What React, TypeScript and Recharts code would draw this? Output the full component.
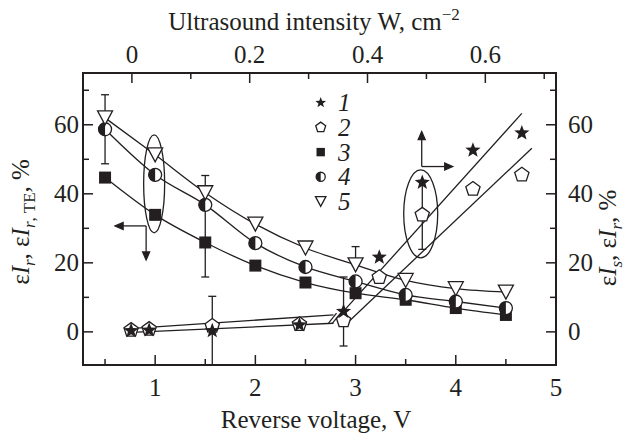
import React from 'react';
import { ComposedChart, Line, Scatter, XAxis, YAxis, ErrorBar, Legend, ReferenceDot } from 'recharts';

// values
const voltage = [0.5, 1, 1.5, 2, 2.5, 3, 3.5, 4, 4.5];
const series3 = [44.7, 33.9, 25.9, 19.2, 14.3, 11.2, 9.3, 6.9, 4.9];
const series4 = [58.7, 45.5, 36.8, 25.7, 18.8, 14.6, 10.7, 8.8, 6.9];
const series5 = [62.0, 51.3, 40.3, 31.2, 24.3, 19.4, 14.9, 12.5, 11.5];

// stars (1) and pentagons (2) vs reverse voltage
const lowVoltage = [0.76, 0.94, 1.57, 2.44, 2.88];
const series1Low = [0.3, 0.5, 0.3, 2.0, 5.9];
const series2Low = [0.5, 0.8, 1.7, 2.2, 3.3];

// stars (1) and pentagons (2) vs ultrasound intensity
const intensity = [0.42, 0.493, 0.579, 0.662];
const series1High = [21.6, 43.3, 52.6, 57.6];
const series2High = [15.8, 33.9, 41.4, 45.5];

// straight fit lines (end points)
const fitLowX = [0.82, 2.78];
const fitLowUpper = [1.1, 4.9];
const fitLowLower = [-0.1, 2.5];
const fitHighUpperX = [0.351, 0.662];
const fitHighUpperY = [4.4, 63.3];
const fitHighLowerX = [0.362, 0.679];
const fitHighLowerY = [2.0, 53.2];

// error bars: x, y, [below, above]
const errVoltageX = [0.5, 1.5, 1.5, 3, 1.57, 2.88];
const errVoltageY = [58.7, 25.9, 40.3, 19.4, 0.3, 5.9];
const errVoltageSize = [[10, 10], [10, 10], [0, 5], [0, 5.3], [10, 10], [10, 10]];
const errIntensityX = [0.493];
const errIntensityY = [33.9];
const errIntensitySize = [[10, 10]];

// ticks
const voltageTicks = [0.5, 1, 1.5, 2, 2.5, 3, 3.5, 4, 4.5, 5];
const voltageLabels = [1, 2, 3, 4, 5];
const intensityTicks = [0, 0.1, 0.2, 0.3, 0.4, 0.5, 0.6, 0.7];
const intensityLabels = [0, 0.2, 0.4, 0.6];
const percentTicks = [0, 10, 20, 30, 40, 50, 60, 70];
const percentLabels = [0, 20, 40, 60];
const legendLabels = ['1', '2', '3', '4', '5'];

const INK = '#231f20';
const FONT = '"Liberation Serif", "Times New Roman", serif';

const pts = (xs: number[], ys: number[]) => xs.map((x, i) => ({ x, y: ys[i] }));
const errPts = (xs: number[], ys: number[], e: number[][]) => xs.map((x, i) => ({ x, y: ys[i], err: e[i] }));

const starPath = (cx: number, cy: number, R: number) => {
  const r = R * 0.42;
  let d = '';
  for (let i = 0; i < 10; i++) {
    const a = -Math.PI / 2 + (i * Math.PI) / 5;
    const rr = i % 2 === 0 ? R : r;
    d += (i === 0 ? 'M' : 'L') + (cx + rr * Math.cos(a)).toFixed(2) + ',' + (cy + rr * Math.sin(a)).toFixed(2);
  }
  return d + 'Z';
};
const pentPath = (cx: number, cy: number, R: number) => {
  let d = '';
  for (let i = 0; i < 5; i++) {
    const a = -Math.PI / 2 + (i * 2 * Math.PI) / 5;
    d += (i === 0 ? 'M' : 'L') + (cx + R * Math.cos(a)).toFixed(2) + ',' + (cy + R * Math.sin(a)).toFixed(2);
  }
  return d + 'Z';
};

const Star = ({ cx, cy, s = 1 }: any) => <path d={starPath(cx, cy, 8 * s)} fill={INK} />;
const Pent = ({ cx, cy, s = 1 }: any) => (
  <path d={pentPath(cx, cy, 7.5 * s)} fill="#fff" stroke={INK} strokeWidth={1.3} />
);
const Square = ({ cx, cy, s = 1 }: any) => (
  <rect x={cx - 6 * s} y={cy - 6 * s} width={12 * s} height={12 * s} fill={INK} />
);
const HalfCircle = ({ cx, cy, s = 1 }: any) => {
  const r = 6.5 * s;
  return (
    <g>
      <circle cx={cx} cy={cy} r={r} fill="#fff" stroke={INK} strokeWidth={1.3} />
      <path d={`M${cx},${cy - r} A${r},${r} 0 0 0 ${cx},${cy + r} Z`} fill={INK} />
    </g>
  );
};
const Tri = ({ cx, cy, s = 1 }: any) => (
  <path
    d={`M${cx - 7.5 * s},${cy - 7 * s} L${cx + 7.5 * s},${cy - 7 * s} L${cx},${cy + 7 * s} Z`}
    fill="#fff"
    stroke={INK}
    strokeWidth={1.3}
  />
);

const isLabel = (v: number, list: number[]) => list.some((l) => Math.abs(l - v) < 1e-6);

const makeTick = (side: 'bottom' | 'top' | 'left' | 'right', labels: number[]) => (props: any) => {
  const { x, y, payload } = props;
  const v = payload.value;
  const major = isLabel(v, labels);
  const len = major ? 10 : 6;
  const txt = { fontFamily: FONT, fontSize: 25, fill: INK } as any;
  if (side === 'bottom')
    return (
      <g>
        <line x1={x} y1={y} x2={x} y2={y - len} stroke={INK} strokeWidth={1.5} />
        {major && <text x={x} y={y + 31} textAnchor="middle" {...txt}>{v}</text>}
      </g>
    );
  if (side === 'top')
    return (
      <g>
        <line x1={x} y1={y} x2={x} y2={y + len} stroke={INK} strokeWidth={1.5} />
        {major && <text x={x} y={y - 10} textAnchor="middle" {...txt}>{v}</text>}
      </g>
    );
  if (side === 'left')
    return (
      <g>
        <line x1={x} y1={y} x2={x + len} y2={y} stroke={INK} strokeWidth={1.5} />
        {major && <text x={x - 4} y={y + 8.5} textAnchor="end" {...txt}>{v}</text>}
      </g>
    );
  return (
    <g>
      <line x1={x} y1={y} x2={x - len} y2={y} stroke={INK} strokeWidth={1.5} />
      {major && <text x={x + 12} y={y + 8.5} textAnchor="start" {...txt}>{v}</text>}
    </g>
  );
};

const titleStyle = { fontFamily: FONT, fontSize: 25, fill: INK } as any;

const bottomTitle = () => (
  <text x={316} y={428} textAnchor="middle" {...titleStyle}>Reverse voltage, V</text>
);
const topTitle = () => (
  <text x={314} y={30} textAnchor="middle" {...titleStyle}>
    Ultrasound intensity W, cm<tspan dy={-10} fontSize={17}>−2</tspan>
  </text>
);
const leftTitle = () => (
  <text x={-222} y={29} transform="rotate(-90)" textAnchor="middle" {...titleStyle}>
    ε<tspan fontStyle="italic">I</tspan>
    <tspan dy={6} fontSize={17} fontStyle="italic">r</tspan>
    <tspan dy={-6}>, ε</tspan>
    <tspan fontStyle="italic">I</tspan>
    <tspan dy={6} fontSize={17}><tspan fontStyle="italic">r</tspan>, TE</tspan>
    <tspan dy={-6}>, %</tspan>
  </text>
);
const rightTitle = () => (
  <text x={-238} y={616} transform="rotate(-90)" textAnchor="middle" {...titleStyle}>
    ε<tspan fontStyle="italic">I</tspan>
    <tspan dy={6} fontSize={17} fontStyle="italic">s</tspan>
    <tspan dy={-6}>, ε</tspan>
    <tspan fontStyle="italic">I</tspan>
    <tspan dy={6} fontSize={17} fontStyle="italic">r</tspan>
    <tspan dy={-6}>, %</tspan>
  </text>
);

const legendShapes = [Star, Pent, Square, HalfCircle, Tri];
const LegendBox = () => (
  <svg width={70} height={130}>
    {legendLabels.map((l, i) => {
      const Sh = legendShapes[i];
      const cy = 14.7 + i * 24.7;
      return (
        <g key={l}>
          <Sh cx={20.7} cy={cy} s={0.7} />
          <text x={38} y={cy + 8.5} fontFamily={FONT} fontSize={25} fontStyle="italic" fill={INK}>{l}</text>
        </g>
      );
    })}
  </svg>
);

const arrowHead = (x: number, y: number, dir: 'l' | 'r' | 'u' | 'd') => {
  const L = 8, W = 3.5;
  const p =
    dir === 'l' ? `${x},${y} ${x + L},${y - W} ${x + L},${y + W}` :
    dir === 'r' ? `${x},${y} ${x - L},${y - W} ${x - L},${y + W}` :
    dir === 'u' ? `${x},${y} ${x - W},${y + L} ${x + W},${y + L}` :
    `${x},${y} ${x - W},${y - L} ${x + W},${y - L}`;
  return <polygon points={p} fill={INK} />;
};

const Ellipse = (rx: number, ry: number) => (p: any) => (
  <ellipse cx={p.cx} cy={p.cy} rx={rx} ry={ry} fill="none" stroke={INK} strokeWidth={1.3} />
);
const ArrowsLeftDown = (p: any) => (
  <g stroke={INK} strokeWidth={1.3}>
    <line x1={p.cx} y1={p.cy} x2={p.cx - 28} y2={p.cy} />
    <line x1={p.cx} y1={p.cy} x2={p.cx} y2={p.cy + 30} />
    {arrowHead(p.cx - 31, p.cy, 'l')}
    {arrowHead(p.cx, p.cy + 34, 'd')}
  </g>
);
const ArrowsUpRight = (p: any) => (
  <g stroke={INK} strokeWidth={1.3}>
    <line x1={p.cx} y1={p.cy} x2={p.cx + 28} y2={p.cy} />
    <line x1={p.cx} y1={p.cy} x2={p.cx} y2={p.cy - 31} />
    {arrowHead(p.cx + 31, p.cy, 'r')}
    {arrowHead(p.cx, p.cy - 35, 'u')}
  </g>
);
// "//" break mark where the low-voltage fits end
const BreakMark = (p: any) => (
  <g stroke={INK} strokeWidth={1.2}>
    <line x1={p.cx - 7} y1={p.cy + 5} x2={p.cx + 1} y2={p.cy - 5} />
    <line x1={p.cx - 3} y1={p.cy + 5} x2={p.cx + 5} y2={p.cy - 5} />
  </g>
);

const axisLine = { stroke: INK, strokeWidth: 2, strokeLinecap: 'square' } as any;
const none = () => <g />;

export default function App() {
  return (
    <div style={{ position: 'absolute', left: 0, top: 0, width: 628, height: 437, background: '#fff' }}>
      <ComposedChart width={628} height={437} margin={{ top: 0, right: 0, bottom: 0, left: 0 }}>
        <XAxis xAxisId="bottom" type="number" dataKey="x" orientation="bottom" domain={[0.28, 5]} allowDataOverflow
          ticks={voltageTicks} interval={0} height={72} tickSize={0} tickMargin={0} tickLine={false}
          axisLine={axisLine} tick={makeTick('bottom', voltageLabels)} label={bottomTitle} />
        <XAxis xAxisId="top" type="number" dataKey="x" orientation="top" domain={[-0.083, 0.72]} allowDataOverflow
          ticks={intensityTicks} interval={0} height={73} tickSize={0} tickMargin={0} tickLine={false}
          axisLine={axisLine} tick={makeTick('top', intensityLabels)} label={topTitle} />
        <YAxis yAxisId="left" type="number" dataKey="y" orientation="left" domain={[-9.6, 75]} allowDataOverflow
          ticks={percentTicks} interval={0} width={83} tickSize={0} tickMargin={0} tickLine={false}
          axisLine={axisLine} tick={makeTick('left', percentLabels)} label={leftTitle} />
        <YAxis yAxisId="right" type="number" dataKey="y" orientation="right" domain={[-9.6, 75]} allowDataOverflow
          ticks={percentTicks} interval={0} width={72} tickSize={0} tickMargin={0} tickLine={false}
          axisLine={axisLine} tick={makeTick('right', percentLabels)} label={rightTitle} />

        <Legend layout="horizontal" verticalAlign="middle" align="center"
          wrapperStyle={{ position: 'absolute', left: 300, top: 88, width: 70, height: 130 }}
          content={() => <LegendBox />} />

        {/* error bars first, markers cover them */}
        <Scatter xAxisId="bottom" yAxisId="left" data={errPts(errVoltageX, errVoltageY, errVoltageSize)} dataKey="y"
          shape={none} isAnimationActive={false}>
          <ErrorBar dataKey="err" direction="y" width={4} stroke={INK} strokeWidth={1.3} isAnimationActive={false} />
        </Scatter>
        <Scatter xAxisId="top" yAxisId="left" data={errPts(errIntensityX, errIntensityY, errIntensitySize)} dataKey="y"
          shape={none} isAnimationActive={false}>
          <ErrorBar dataKey="err" direction="y" width={4} stroke={INK} strokeWidth={1.3} isAnimationActive={false} />
        </Scatter>

        {/* fit lines */}
        <Line xAxisId="bottom" yAxisId="left" data={pts(fitLowX, fitLowUpper)} dataKey="y" type="linear"
          stroke={INK} strokeWidth={1.3} dot={false} activeDot={false} isAnimationActive={false} />
        <Line xAxisId="bottom" yAxisId="left" data={pts(fitLowX, fitLowLower)} dataKey="y" type="linear"
          stroke={INK} strokeWidth={1.3} dot={false} activeDot={false} isAnimationActive={false} />
        <Line xAxisId="top" yAxisId="left" data={pts(fitHighUpperX, fitHighUpperY)} dataKey="y" type="linear"
          stroke={INK} strokeWidth={1.3} dot={false} activeDot={false} isAnimationActive={false} />
        <Line xAxisId="top" yAxisId="left" data={pts(fitHighLowerX, fitHighLowerY)} dataKey="y" type="linear"
          stroke={INK} strokeWidth={1.3} dot={false} activeDot={false} isAnimationActive={false} />

        {/* curves 3, 4, 5 */}
        <Line xAxisId="bottom" yAxisId="left" data={pts(voltage, series3)} dataKey="y" type="monotone"
          stroke={INK} strokeWidth={1.3} activeDot={false} isAnimationActive={false}
          dot={(p: any) => <Square key={p.index} cx={p.cx} cy={p.cy} />} />
        <Line xAxisId="bottom" yAxisId="left" data={pts(voltage, series4)} dataKey="y" type="monotone"
          stroke={INK} strokeWidth={1.3} activeDot={false} isAnimationActive={false}
          dot={(p: any) => <HalfCircle key={p.index} cx={p.cx} cy={p.cy} />} />
        <Line xAxisId="bottom" yAxisId="left" data={pts(voltage, series5)} dataKey="y" type="monotone"
          stroke={INK} strokeWidth={1.3} activeDot={false} isAnimationActive={false}
          dot={(p: any) => <Tri key={p.index} cx={p.cx} cy={p.cy} />} />

        {/* points 2 and 1 */}
        <Scatter xAxisId="bottom" yAxisId="left" data={pts(lowVoltage, series2Low)} dataKey="y"
          shape={(p: any) => <Pent cx={p.cx} cy={p.cy} />} isAnimationActive={false} />
        <Scatter xAxisId="top" yAxisId="left" data={pts(intensity, series2High)} dataKey="y"
          shape={(p: any) => <Pent cx={p.cx} cy={p.cy} />} isAnimationActive={false} />
        <Scatter xAxisId="bottom" yAxisId="left" data={pts(lowVoltage, series1Low)} dataKey="y"
          shape={(p: any) => <Star cx={p.cx} cy={p.cy} />} isAnimationActive={false} />
        <Scatter xAxisId="top" yAxisId="left" data={pts(intensity, series1High)} dataKey="y"
          shape={(p: any) => <Star cx={p.cx} cy={p.cy} />} isAnimationActive={false} />

        {/* annotations */}
        <ReferenceDot xAxisId="bottom" yAxisId="left" x={0.99} y={42.9} r={1} shape={Ellipse(10.5, 49)} />
        <ReferenceDot xAxisId="bottom" yAxisId="left" x={0.91} y={30.7} r={1} shape={ArrowsLeftDown} />
        <ReferenceDot xAxisId="bottom" yAxisId="left" x={3.65} y={34.2} r={1} shape={Ellipse(17, 44)} />
        <ReferenceDot xAxisId="bottom" yAxisId="left" x={3.66} y={47.9} r={1} shape={ArrowsUpRight} />
        <ReferenceDot xAxisId="bottom" yAxisId="left" x={2.8} y={4.0} r={1} shape={BreakMark} />
      </ComposedChart>
    </div>
  );
}
